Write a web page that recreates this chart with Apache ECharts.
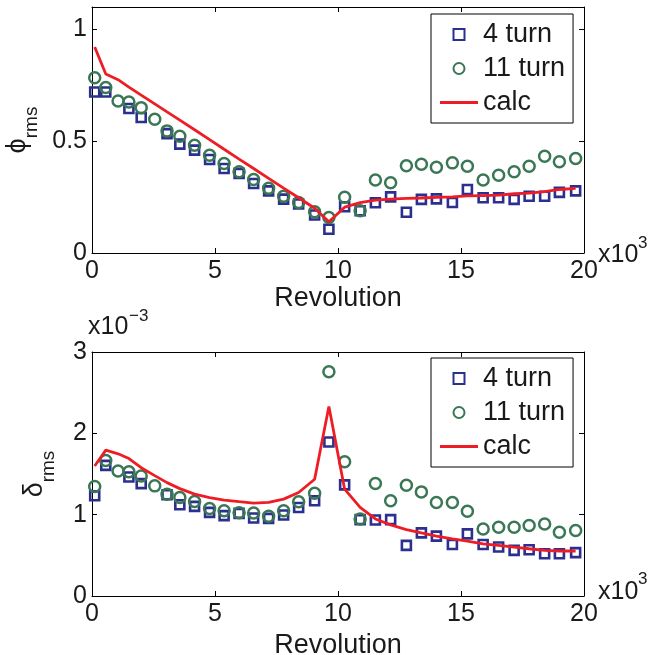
<!DOCTYPE html>
<html>
<head>
<meta charset="utf-8">
<script src="https://cdn.jsdelivr.net/npm/echarts@6/dist/echarts.min.js"></script>
<style>html,body{margin:0;padding:0;background:#fff;}#c{width:653px;height:655px;}</style>
</head>
<body>
<div id="c"></div>
<script>
// Revolution (x10^3)
const revs = [0.11,0.56,1.06,1.5,2.0,2.55,3.05,3.57,4.17,4.78,5.37,5.98,6.57,7.18,7.79,8.4,9.05,9.63,10.27,10.9,11.52,12.14,12.78,13.39,14.0,14.65,15.26,15.9,16.53,17.16,17.77,18.4,19.0,19.66];
// phi_rms
const phi4 = [0.720,0.720,null,0.646,0.606,null,0.534,0.487,0.460,0.418,0.378,0.356,0.311,0.278,0.241,0.219,0.170,0.106,0.207,0.189,0.225,0.251,0.182,0.240,0.242,0.226,0.284,0.247,0.247,0.240,0.254,0.254,0.271,0.278];
const phi11 = [0.784,0.740,0.680,0.675,0.650,0.598,0.546,0.522,0.482,0.437,0.400,0.363,0.329,0.289,0.254,0.226,0.184,0.159,0.249,0.189,0.326,0.314,0.390,0.397,0.383,0.403,0.388,0.326,0.348,0.363,0.388,0.433,0.408,0.423];
const phiCalc = [0.921,0.800,0.775,0.742,0.706,0.667,0.631,0.594,0.551,0.507,0.464,0.420,0.378,0.334,0.290,0.247,0.200,0.140,0.205,0.225,0.236,0.241,0.244,0.246,0.249,0.251,0.255,0.257,0.259,0.265,0.268,0.274,0.284,0.289];
// delta_rms (x10^-3)
const delta4 = [1.232,1.606,null,1.463,1.382,null,1.244,1.122,1.102,1.028,0.988,1.016,0.959,0.955,0.996,1.089,1.171,1.894,1.366,0.939,0.935,0.939,0.622,0.776,0.736,0.634,0.764,0.634,0.602,0.561,0.569,0.520,0.520,0.533];
const delta11 = [1.346,1.667,1.537,1.528,1.476,1.354,1.252,1.211,1.163,1.077,1.049,1.024,1.020,0.980,1.049,1.159,1.264,2.756,1.650,0.947,1.382,1.171,1.362,1.280,1.150,1.150,1.041,0.825,0.845,0.845,0.866,0.886,0.784,0.805];
const deltaCalc = [1.598,1.793,1.748,1.690,1.577,1.480,1.394,1.320,1.252,1.210,1.179,1.160,1.142,1.150,1.191,1.272,1.435,2.329,1.313,1.089,0.947,0.874,0.817,0.776,0.736,0.703,0.675,0.642,0.622,0.601,0.581,0.561,0.553,0.553];
const xTicks = [0, 20, 5];      // min, max, interval
const phiTicks = [0, 1.1, 0.5];
const deltaTicks = [0, 3, 1];
const seriesNames = ['4 turn', '11 turn', 'calc'];

const FONT = 'Liberation Sans, Arial, Helvetica, sans-serif';
const BLUE = '#2b2f8e', GREEN = '#3a7755', RED = '#ee1d25';

function pairs(xs, ys) {
  const out = [];
  xs.forEach((x, i) => { if (ys[i] !== null && ys[i] !== undefined) out.push([x, ys[i]]); });
  return out;
}

const chart = echarts.init(document.getElementById('c'), null, {renderer: 'canvas'});

const axisLineStyle = {show: true, onZero: false, lineStyle: {color: '#000', width: 1}};
const tickStyle = {show: true, inside: true, length: 5, lineStyle: {color: '#000', width: 1}};
const labelStyle = {color: '#1a1a1a', fontSize: 25, fontFamily: FONT};

function xAxes(grid, nameGap) {
  return [
    {type: 'value', gridIndex: grid, min: xTicks[0], max: xTicks[1], interval: xTicks[2], position: 'bottom',
     axisLine: axisLineStyle, axisTick: tickStyle, splitLine: {show: false},
     axisLabel: Object.assign({margin: 6}, labelStyle),
     name: 'Revolution', nameLocation: 'middle', nameGap: nameGap,
     nameTextStyle: {color: '#1a1a1a', fontSize: 27, fontFamily: FONT}},
    {type: 'value', gridIndex: grid, min: xTicks[0], max: xTicks[1], interval: xTicks[2], position: 'top',
     axisLine: axisLineStyle, axisTick: tickStyle, splitLine: {show: false}, axisLabel: {show: false}}
  ];
}
function yAxes(grid, ticks, nameRich, nameGap) {
  return [
    {type: 'value', gridIndex: grid, min: ticks[0], max: ticks[1], interval: ticks[2], position: 'left',
     axisLine: axisLineStyle, axisTick: tickStyle, splitLine: {show: false},
     axisLabel: Object.assign({margin: 5, showMaxLabel: ticks[1] % ticks[2] === 0}, labelStyle),
     name: nameRich, nameLocation: 'middle', nameRotate: 90, nameGap: nameGap,
     nameTextStyle: {color: '#1a1a1a', fontFamily: FONT,
       rich: {
         a: {fontSize: 27, fontFamily: FONT, color: '#1a1a1a'},
         b: {fontSize: 19, fontFamily: FONT, color: '#1a1a1a', verticalAlign: 'bottom', padding: [28, 0, 0, 0]}
       }}},
    {type: 'value', gridIndex: grid, min: ticks[0], max: ticks[1], interval: ticks[2], position: 'right',
     axisLine: axisLineStyle, axisTick: tickStyle, splitLine: {show: false}, axisLabel: {show: false}}
  ];
}

function seriesFor(xi, yi, a, b, c) {
  return [
    {name: seriesNames[0], type: 'scatter', xAxisIndex: xi, yAxisIndex: yi, data: pairs(revs, a),
     symbol: 'rect', symbolSize: 9, clip: false, z: 2,
     itemStyle: {color: 'rgba(0,0,0,0)', borderColor: BLUE, borderWidth: 2.6, opacity: 1}},
    {name: seriesNames[1], type: 'scatter', xAxisIndex: xi, yAxisIndex: yi, data: pairs(revs, b),
     symbol: 'circle', symbolSize: 11, clip: false, z: 3,
     itemStyle: {color: 'rgba(0,0,0,0)', borderColor: GREEN, borderWidth: 2.5, opacity: 1}},
    {name: seriesNames[2], type: 'line', xAxisIndex: xi, yAxisIndex: yi, data: pairs(revs, c),
     showSymbol: false, symbol: 'none', clip: false, z: 4,
     lineStyle: {color: RED, width: 2.8}, itemStyle: {color: RED}}
  ];
}

function legendAt(top) {
  return {
    orient: 'vertical', left: 431, top: top,
    data: [
      {name: seriesNames[0], icon: 'path://M0,0H10V10H0Z'},
      {name: seriesNames[1], icon: 'path://M5,0A5,5,0,1,1,5,10A5,5,0,1,1,5,0Z'},
      {name: seriesNames[2], icon: 'path://M0,0H38V3H0Z'}
    ],
    symbolKeepAspect: true,
    backgroundColor: '#fff', borderColor: '#000', borderWidth: 1,
    padding: [7, 8, 7, 9], itemGap: 7, itemWidth: 38, itemHeight: 11,
    textStyle: {fontSize: 27, fontFamily: FONT, color: '#1a1a1a'},
    selectedMode: false
  };
}

const supStyle = (txt, x, y, size) => ({type: 'text', x: x, y: y, silent: true,
  style: {text: txt, fontSize: size, fontFamily: FONT, fill: '#1a1a1a', verticalAlign: 'middle', align: 'left'}});

const option = {
  backgroundColor: '#fff',
  animation: false,
  grid: [
    {left: 92, top: 7, width: 492, height: 246, containLabel: false, outerBoundsMode: 'none'},
    {left: 92, top: 352, width: 492, height: 244, containLabel: false, outerBoundsMode: 'none'}
  ],
  xAxis: xAxes(0, 30).concat(xAxes(1, 36)),
  yAxis: yAxes(0, phiTicks, '{a|\u03d5}{b|rms}', 48)
         .concat(yAxes(1, deltaTicks, '{a|δ}{b|rms}', 34)),
  legend: [legendAt(14), legendAt(358)],
  series: seriesFor(0, 0, phi4, phi11, phiCalc).concat(seriesFor(2, 2, delta4, delta11, deltaCalc)),
  graphic: [
    supStyle('x10', 598, 255, 25), supStyle('3', 638, 243, 17),
    supStyle('x10', 598, 592, 25), supStyle('3', 638, 579, 17),
    supStyle('x10', 88, 327, 25), supStyle('\u22123', 129, 316, 17)
  ]
};
chart.setOption(option);
</script>
</body>
</html>
